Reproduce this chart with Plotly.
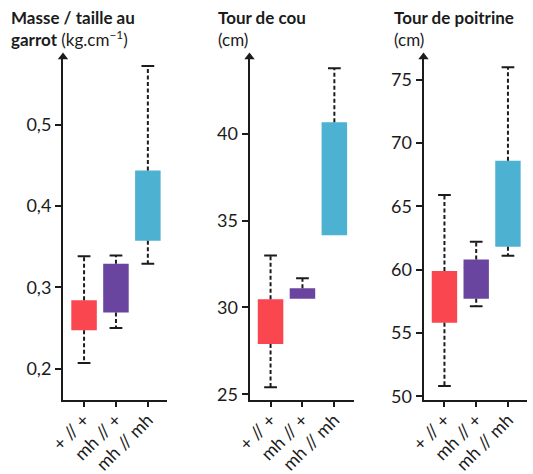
import plotly.graph_objects as go

# Genotypes shown on every panel
genotypes = ["+ // +", "mh // +", "mh // mh"]

# Masse / taille au garrot (kg.cm-1): whisker low, box low, box high, whisker high
masse_low = [0.207, 0.250, 0.329]
masse_q1 = [0.247, 0.269, 0.357]
masse_q3 = [0.284, 0.329, 0.4435]
masse_high = [0.338, 0.339, 0.572]

# Tour de cou (cm)
cou_low = [25.42, 30.5, 34.15]
cou_q1 = [27.9, 30.5, 34.15]
cou_q3 = [30.48, 31.1, 40.65]
cou_high = [32.99, 31.68, 43.75]

# Tour de poitrine (cm)
poitrine_low = [50.8, 57.1, 61.1]
poitrine_q1 = [55.8, 57.7, 61.8]
poitrine_q3 = [59.9, 60.8, 68.6]
poitrine_high = [65.9, 62.2, 76.0]

colors = ["#F9464F", "#6A45A0", "#4DB2D2"]

W, H = 533, 474
FONT = "Lato"
INK = "#1b1b1b"

panels = [
    dict(low=masse_low, q1=masse_q1, q3=masse_q3, high=masse_high,
         yrange=[0.162, 0.583], dtick=0.1, tick0=0.2, xpx=(63, 167),
         title="<b>Masse / taille au</b><br><b>garrot</b> (kg.cm<sup>−1</sup>)", tx=9),
    dict(low=cou_low, q1=cou_q1, q3=cou_q3, high=cou_high,
         yrange=[24.71, 44.4], dtick=5, tick0=25, xpx=(249.5, 353.5),
         title="<b>Tour de cou</b><br>(cm)", tx=216),
    dict(low=poitrine_low, q1=poitrine_q1, q3=poitrine_q3, high=poitrine_high,
         yrange=[49.74, 76.8], dtick=5, tick0=50, xpx=(423.5, 527),
         title="<b>Tour de poitrine</b><br>(cm)", tx=392),
]

y_bottom_px, y_top_px = 399.5, 57
ydom = [(H - y_bottom_px) / H, (H - y_top_px) / H]
xrange = [-0.66, 2.6]

fig = go.Figure()
annotations = []
cap = 0.2

for i, p in enumerate(panels):
    sfx = "" if i == 0 else str(i + 1)
    xa, ya = "x" + sfx, "y" + sfx
    xs = list(range(len(genotypes)))

    # whiskers: dashed stems from box edges, solid caps
    for j in xs:
        for a, b in ((p["q3"][j], p["high"][j]), (p["q1"][j], p["low"][j])):
            if abs(b - a) < 1e-9:
                continue
            fig.add_trace(go.Scatter(x=[j, j], y=[a, b], mode="lines",
                                     line=dict(color=INK, width=2, dash="4px,2.5px"),
                                     xaxis=xa, yaxis=ya, showlegend=False, hoverinfo="skip"))
            fig.add_trace(go.Scatter(x=[j - cap, j + cap], y=[b, b], mode="lines",
                                     line=dict(color=INK, width=2),
                                     xaxis=xa, yaxis=ya, showlegend=False, hoverinfo="skip"))

    # interquartile boxes as floating bars
    fig.add_trace(go.Bar(x=xs, base=p["q1"],
                         y=[h - l for h, l in zip(p["q3"], p["q1"])],
                         width=0.8, marker=dict(color=colors, line=dict(width=0)),
                         xaxis=xa, yaxis=ya, showlegend=False))

    # arrow head on top of the y axis
    fig.add_trace(go.Scatter(x=[xrange[0]], y=[p["yrange"][1]], mode="markers",
                             marker=dict(symbol="triangle-up", size=9, color=INK),
                             cliponaxis=False, xaxis=xa, yaxis=ya,
                             showlegend=False, hoverinfo="skip"))

    x0, x1 = p["xpx"]
    fig.update_layout(**{
        "xaxis" + sfx: dict(domain=[x0 / W, x1 / W], range=xrange, anchor=ya,
                            automargin=False, ticklabelstandoff=-4,
                            tickmode="array", tickvals=xs, ticktext=genotypes,
                            tickangle=-45, showline=True, linecolor=INK, linewidth=2,
                            ticks="outside", ticklen=5, tickwidth=2, tickcolor=INK,
                            showgrid=False, zeroline=False,
                            tickfont=dict(family=FONT, size=18, color=INK)),
        "yaxis" + sfx: dict(domain=ydom, range=p["yrange"], anchor=xa,
                            automargin=False,
                            tick0=p["tick0"], dtick=p["dtick"],
                            showline=True, linecolor=INK, linewidth=2,
                            ticks="outside", ticklen=6, tickwidth=2, tickcolor=INK,
                            showgrid=False, zeroline=False,
                            tickfont=dict(family=FONT, size=18, color=INK)),
    })

    annotations.append(dict(xref="paper", yref="paper", x=p["tx"] / W, y=1 - 5 / H,
                            xanchor="left", yanchor="top", align="left", showarrow=False,
                            text=p["title"],
                            font=dict(family=FONT, size=17, color=INK)))

fig.update_layout(width=W, height=H, margin=dict(l=0, r=0, t=0, b=0, autoexpand=False),
                  paper_bgcolor="white", plot_bgcolor="white",
                  separators=", ", barmode="overlay", annotations=annotations,
                  font=dict(family=FONT, color=INK))

fig.write_html("out.html")
